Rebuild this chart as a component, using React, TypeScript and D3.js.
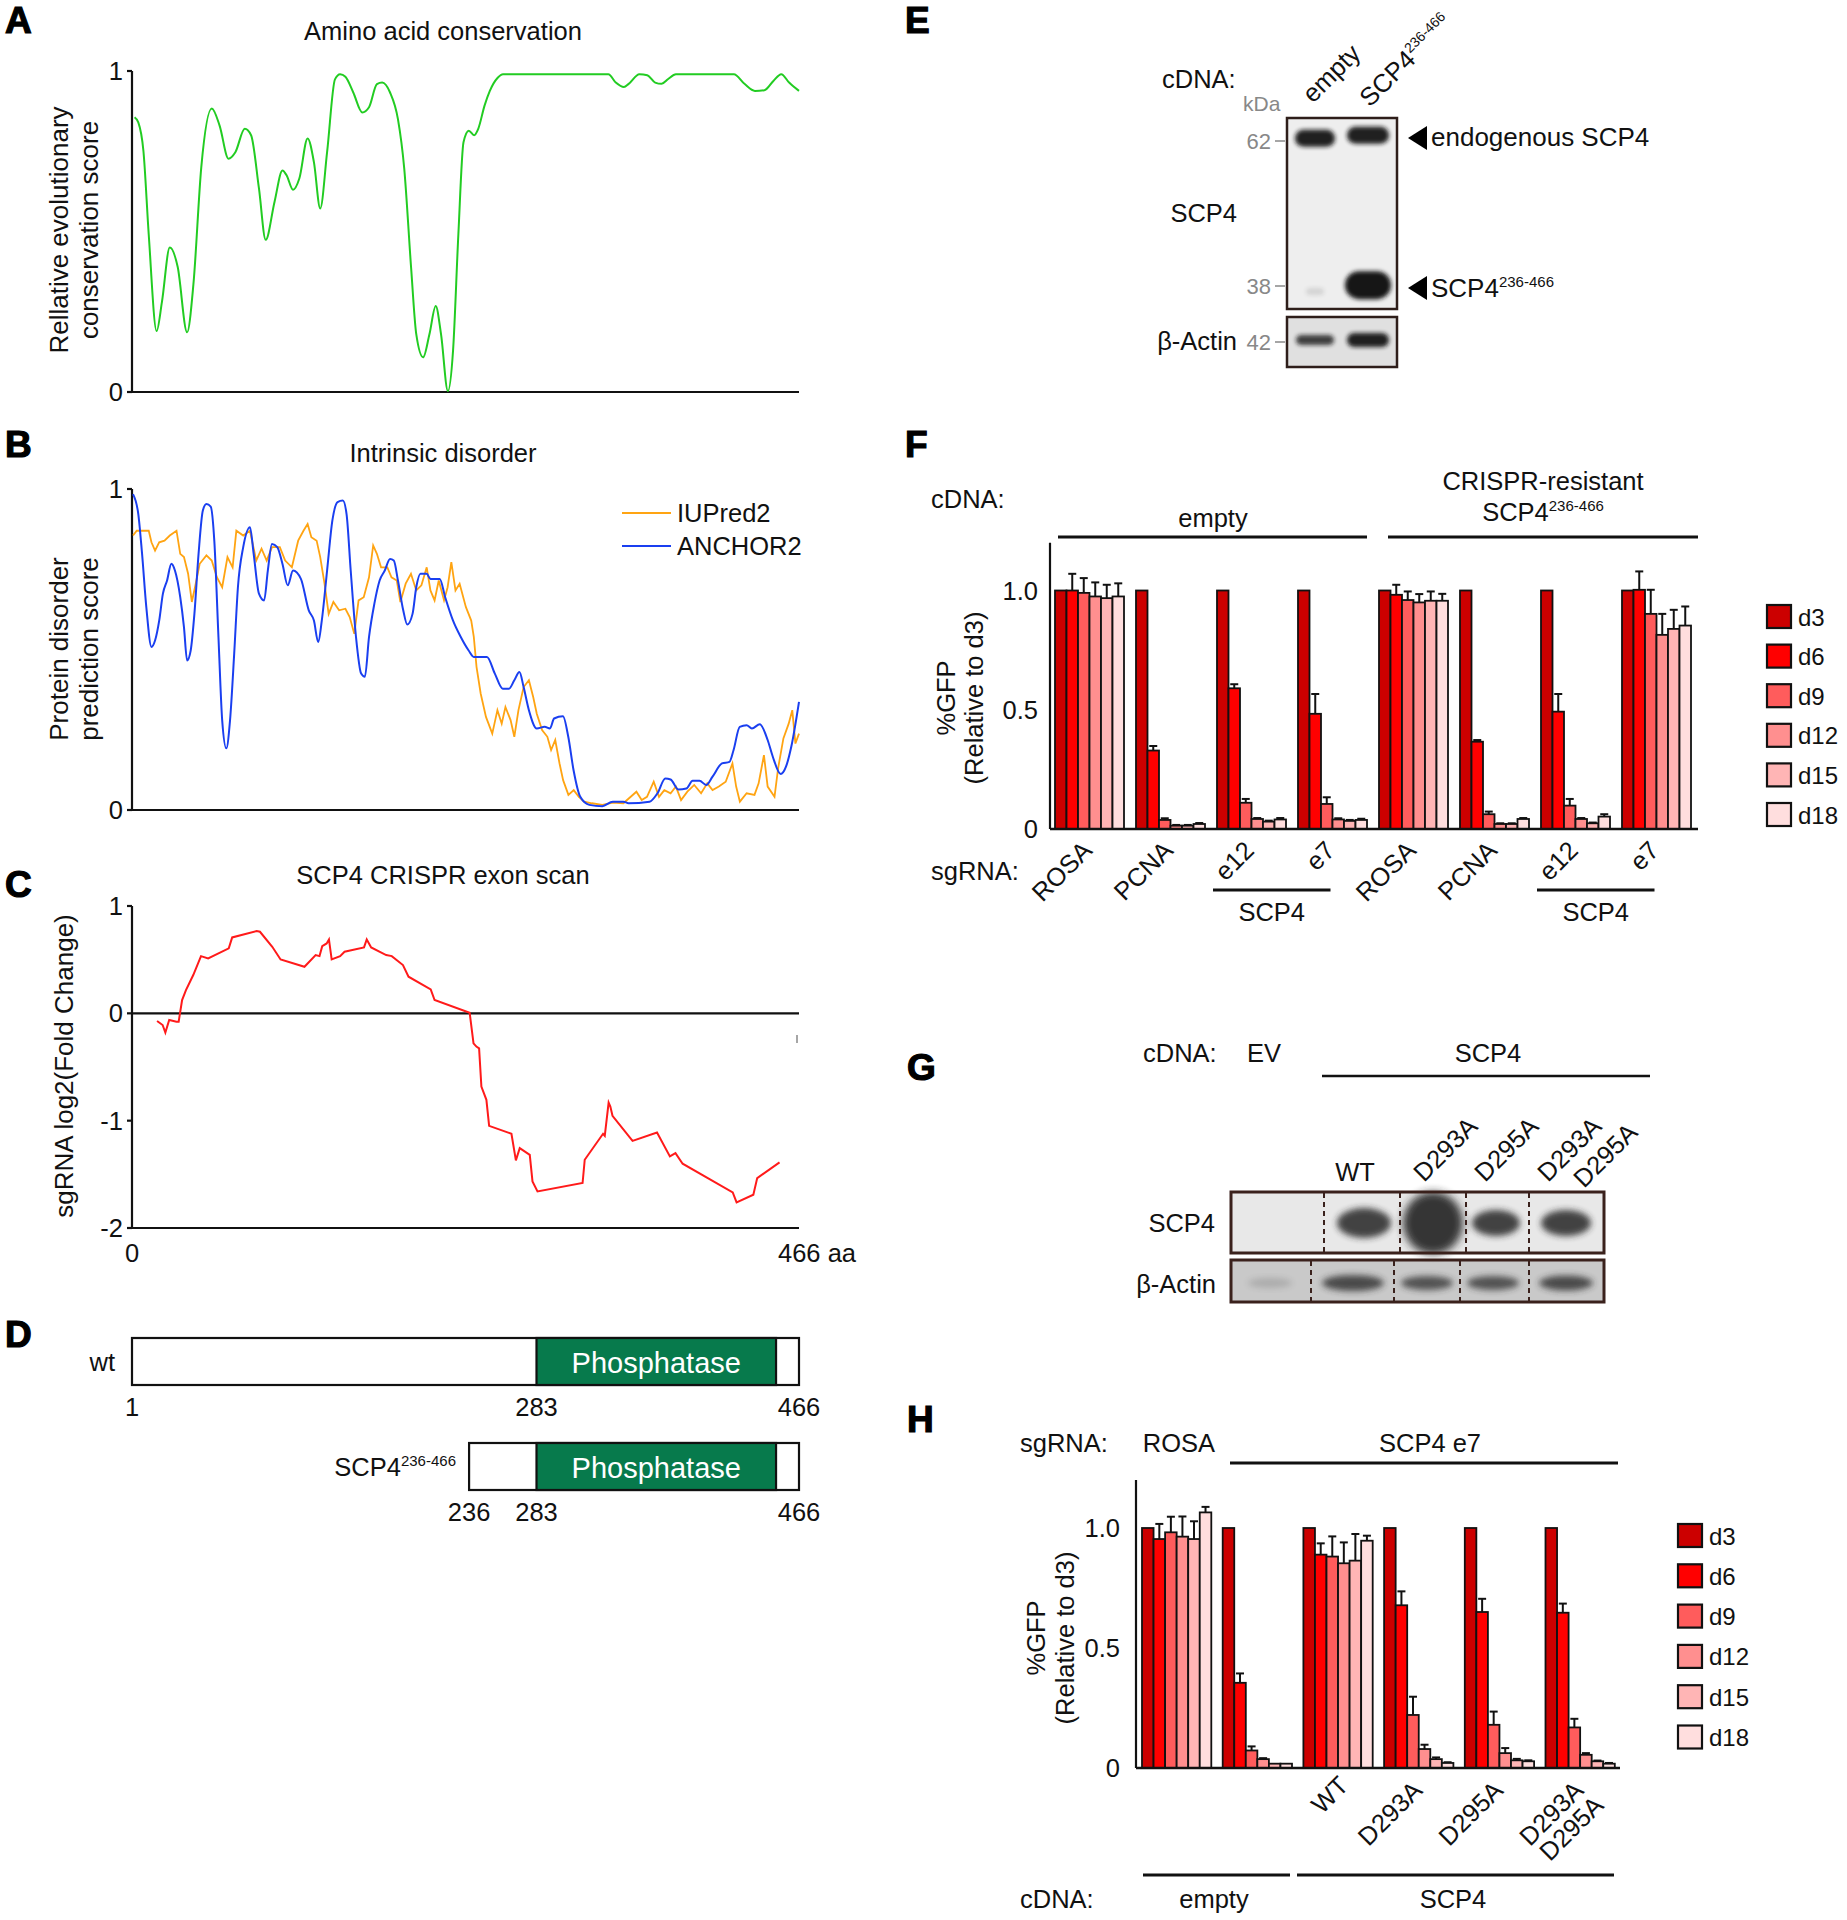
import React from 'react';
import * as d3 from 'd3';

const FONT = '"Liberation Sans", Arial, Helvetica, sans-serif';

// ---------- Panel A: conservation (aa, score)
const conservationPts: [number, number][] = [
  [1.8, 0.856], [4.4, 0.84], [8, 0.75], [11.7, 0.49], [17.2, 0.19], [20.9, 0.28], [26.4, 0.45], [31.9, 0.39],
  [38.5, 0.186], [42.9, 0.335], [48.4, 0.7], [55.7, 0.883], [61.2, 0.83], [67.4, 0.727], [72.2, 0.747], [78.8, 0.82],
  [83.2, 0.8], [88.7, 0.634], [93.4, 0.474], [99.6, 0.593], [105.1, 0.69], [108, 0.675], [112.5, 0.63], [116.9, 0.665],
  [122.7, 0.79], [127.1, 0.716], [131.5, 0.572], [136.3, 0.747], [141.8, 0.974], [145.4, 0.99], [149.1, 0.982],
  [154.6, 0.933], [160.9, 0.871], [165.6, 0.887], [171.1, 0.959], [174.8, 0.964], [180.3, 0.933], [185.8, 0.85],
  [190.2, 0.696], [195, 0.387], [198.6, 0.18], [203.4, 0.108], [207.8, 0.18], [212.2, 0.268], [215.9, 0.18],
  [220.7, 0.003], [224.3, 0.129], [228, 0.49], [231.6, 0.778], [235.3, 0.814], [239, 0.8], [241.9, 0.82],
  [246.3, 0.892], [250, 0.938], [255.5, 0.979], [259.2, 0.99], [332.8, 0.99], [338, 0.964], [343.7, 0.95],
  [347, 0.96], [354.5, 0.99], [360, 0.987], [365.5, 0.964], [370, 0.96], [374.6, 0.975], [380, 0.99],
  [420.5, 0.99], [427.9, 0.96], [435.2, 0.938], [441.8, 0.94], [448.1, 0.969], [453.6, 0.99], [459.1, 0.964], [466, 0.938],
];

// ---------- Panel B: disorder
const anchorPts: [number, number][] = [
  [0.7, 0.984], [4.4, 0.922], [7, 0.8], [10, 0.632], [13.6, 0.508], [16.1, 0.528], [19, 0.59], [21.6, 0.674],
  [24.5, 0.715], [27.5, 0.767], [30, 0.746], [33.7, 0.663], [36.3, 0.57], [38.5, 0.466], [41, 0.497], [43.6, 0.611],
  [46.5, 0.798], [49.5, 0.933], [52, 0.953], [55, 0.945], [57.5, 0.839], [60.4, 0.539], [63, 0.28], [65.9, 0.192],
  [68.5, 0.28], [71.4, 0.487], [74, 0.694], [77.7, 0.819], [82.4, 0.881], [85, 0.798], [88.7, 0.674], [92.3, 0.653],
  [94.9, 0.746], [97.8, 0.829], [101.5, 0.819], [105.1, 0.767], [108.8, 0.7], [112.5, 0.746], [118, 0.72],
  [123.5, 0.622], [127.1, 0.59], [130.1, 0.523], [132.6, 0.59], [136.3, 0.746], [140, 0.902], [143.6, 0.959],
  [147.3, 0.964], [149.9, 0.922], [152.8, 0.746], [156.5, 0.539], [160.1, 0.425], [162.7, 0.415], [165.6, 0.539],
  [169.3, 0.642], [173, 0.715], [176.6, 0.746], [180.3, 0.782], [182.9, 0.777], [185.8, 0.715], [189.5, 0.622],
  [192.3, 0.578], [196, 0.611], [198.6, 0.694], [201.5, 0.736], [205.9, 0.736], [208.5, 0.72], [215, 0.72],
  [218.8, 0.663], [224.3, 0.59], [229.7, 0.539], [235.2, 0.497], [238.8, 0.477], [248, 0.477], [253.5, 0.425],
  [259, 0.378], [263.4, 0.378], [267.1, 0.404], [270.7, 0.43], [273.6, 0.383], [277.3, 0.311], [282.8, 0.254],
  [288.3, 0.259], [292, 0.254], [294.9, 0.285], [301.1, 0.292], [304.8, 0.228], [308.5, 0.124], [313.2, 0.041],
  [319.5, 0.016], [328.6, 0.012], [335.9, 0.026], [343.3, 0.026], [346.9, 0.021], [361.6, 0.026], [367.1, 0.052],
  [372.6, 0.098], [376.3, 0.095], [381.8, 0.064], [387.3, 0.067], [391.7, 0.091], [396.5, 0.091], [401.2, 0.078],
  [405.6, 0.104], [412.2, 0.145], [417.4, 0.15], [420.3, 0.187], [424.6, 0.259], [429.4, 0.264], [433.1, 0.254],
  [438.6, 0.267], [444.1, 0.218], [447.7, 0.166], [453.2, 0.112], [456.9, 0.135], [460.6, 0.197], [466, 0.337],
];

const iupredPts: [number, number][] = [
  [0.7, 0.855], [3.3, 0.87], [11.7, 0.87], [13.6, 0.834], [16.1, 0.808], [19, 0.834], [22.7, 0.839], [26.4, 0.855],
  [31.1, 0.87], [33.7, 0.798], [36.3, 0.788], [39.2, 0.736], [41.8, 0.648], [44.3, 0.7], [47.3, 0.767], [52, 0.793],
  [55.7, 0.777], [59.3, 0.725], [63, 0.694], [66.7, 0.788], [70.3, 0.756], [72.9, 0.87], [77.7, 0.855], [82.4, 0.87],
  [86.8, 0.777], [90.5, 0.814], [94.1, 0.777], [97.8, 0.819], [103.3, 0.819], [107, 0.777], [111.7, 0.756],
  [116.1, 0.839], [119.8, 0.87], [122.7, 0.891], [125.3, 0.85], [129, 0.839], [131.5, 0.788], [134.5, 0.705],
  [137.4, 0.611], [140.7, 0.648], [144.7, 0.622], [149.1, 0.627], [152.1, 0.601], [155.3, 0.549], [158.3, 0.653],
  [161.9, 0.663], [165.6, 0.725], [168.5, 0.824], [171.1, 0.798], [174, 0.756], [178.4, 0.756], [181.3, 0.725],
  [185, 0.715], [187.5, 0.648], [191.2, 0.705], [194.9, 0.736], [198.6, 0.684], [202.2, 0.7], [205.9, 0.756],
  [208.5, 0.684], [211.4, 0.653], [214.3, 0.715], [218, 0.653], [220.5, 0.694], [223.1, 0.772], [226, 0.684],
  [228.9, 0.705], [233.3, 0.632], [237, 0.59], [238.8, 0.539], [240.7, 0.446], [243.6, 0.363], [247.3, 0.29],
  [251.7, 0.238], [255.3, 0.311], [258.3, 0.269], [260.9, 0.321], [264.5, 0.28], [267.1, 0.228], [270, 0.311],
  [273.6, 0.383], [277.3, 0.404], [280.3, 0.352], [282.8, 0.3], [286.5, 0.249], [290.2, 0.228], [292.8, 0.187],
  [295.7, 0.218], [298.7, 0.145], [301.2, 0.093], [304.9, 0.047], [308.6, 0.062], [312.2, 0.041], [315.9, 0.026],
  [321.3, 0.021], [328.6, 0.016], [336, 0.023], [343.3, 0.021], [352.4, 0.057], [356.1, 0.031], [359.8, 0.041],
  [364.5, 0.088], [368.2, 0.041], [371.9, 0.062], [376.3, 0.052], [380, 0.073], [383.6, 0.031], [388, 0.057],
  [392.8, 0.078], [397.6, 0.052], [401.9, 0.083], [405.6, 0.062], [410, 0.073], [414.8, 0.088], [419.5, 0.145],
  [422.1, 0.073], [424.7, 0.026], [429.4, 0.052], [434.9, 0.047], [437.8, 0.083], [441.5, 0.171], [444.1, 0.073],
  [448.9, 0.041], [451.4, 0.13], [455.1, 0.223], [458.8, 0.269], [461.3, 0.311], [463.5, 0.207], [466, 0.238],
];

// ---------- Panel C: exon scan (aa, log2FC)
const exonScanPts: [number, number][] = [
  [17.5, -0.071], [21.4, -0.109], [23.3, -0.18], [26, -0.062], [31.1, -0.078], [32.6, -0.078], [35, 0.124],
  [37.7, 0.217], [42.8, 0.357], [48.2, 0.533], [53.2, 0.512], [67.6, 0.605], [70, 0.707], [87.1, 0.766],
  [89.4, 0.76], [98, 0.62], [103.8, 0.502], [120.5, 0.434], [128.3, 0.543], [131, 0.533], [132.9, 0.626],
  [136, 0.651], [137.6, 0.688], [139.5, 0.502], [145.4, 0.533], [148.5, 0.574], [162.1, 0.614], [164, 0.688],
  [167.1, 0.614], [177.6, 0.543], [181.5, 0.533], [189.3, 0.45], [193.2, 0.341], [208.7, 0.223], [211.4, 0.124],
  [235.9, 0.006], [238.6, -0.279], [240.6, -0.31], [242.5, -0.326], [244.1, -0.682], [247.6, -0.806],
  [249.5, -1.048], [265.1, -1.122], [268.2, -1.37], [270.9, -1.256], [277.9, -1.318], [279.8, -1.566],
  [283.3, -1.659], [314.8, -1.581], [316.3, -1.364], [329.1, -1.122], [330.3, -1.141], [333, -0.831],
  [334.2, -0.868], [335.7, -0.955], [349.7, -1.188], [366.8, -1.11], [375.8, -1.333], [379.7, -1.302],
  [384.7, -1.401], [419.7, -1.668], [422.4, -1.761], [434.1, -1.69], [436.8, -1.535], [452.4, -1.389],
];

// ---------- Panel D: domains
const proteinLength = 466;
const phosphataseDomain: [number, number] = [283, 450];
const constructs = [
  { name: 'wt', start: 1, ticks: [1, 283, 466] },
  { name: 'SCP4', start: 236, ticks: [236, 283, 466] },
];

// ---------- Panels F & H: bar data
const days = ['d3', 'd6', 'd9', 'd12', 'd15', 'd18'];
const dayColors = ['#cc0000', '#ff0000', '#ff5c5c', '#ff8f8f', '#ffb5b5', '#ffdede'];

const fGroupLabels = ['ROSA', 'PCNA', 'e12', 'e7', 'ROSA', 'PCNA', 'e12', 'e7'];
const fValues = [
  [1, 1.0, 0.99, 0.975, 0.968, 0.975],
  [1, 0.329, 0.038, 0.014, 0.014, 0.021],
  [1, 0.59, 0.11, 0.042, 0.031, 0.04],
  [1, 0.483, 0.105, 0.04, 0.034, 0.038],
  [1, 0.982, 0.96, 0.95, 0.957, 0.957],
  [1, 0.366, 0.062, 0.021, 0.021, 0.042],
  [1, 0.492, 0.098, 0.042, 0.024, 0.052],
  [1, 1.003, 0.902, 0.814, 0.839, 0.853],
];
const fErrors = [
  [0, 0.07, 0.062, 0.059, 0.056, 0.055],
  [0, 0.019, 0.007, 0.003, 0.003, 0.004],
  [0, 0.017, 0.016, 0.004, 0.004, 0.006],
  [0, 0.083, 0.028, 0.005, 0.004, 0.005],
  [0, 0.042, 0.036, 0.035, 0.039, 0.029],
  [0, 0.007, 0.011, 0.003, 0.003, 0.004],
  [0, 0.074, 0.028, 0.004, 0.003, 0.01],
  [0, 0.077, 0.101, 0.088, 0.08, 0.08],
];

const hGroupLabels = [[], [], ['WT'], ['D293A'], ['D295A'], ['D293A', 'D295A']];
const hValues = [
  [1, 0.954, 0.982, 0.964, 0.954, 1.065],
  [1, 0.355, 0.073, 0.037, 0.018, 0.018],
  [1, 0.889, 0.881, 0.853, 0.864, 0.947],
  [1, 0.678, 0.221, 0.079, 0.037, 0.021],
  [1, 0.65, 0.18, 0.062, 0.032, 0.028],
  [1, 0.647, 0.169, 0.055, 0.028, 0.018],
];
const hErrors = [
  [0, 0.063, 0.065, 0.084, 0.074, 0.023],
  [0, 0.039, 0.017, 0.004, 0, 0],
  [0, 0.047, 0.084, 0.087, 0.111, 0.021],
  [0, 0.058, 0.076, 0.018, 0.007, 0.003],
  [0, 0.055, 0.055, 0.021, 0.006, 0.004],
  [0, 0.038, 0.036, 0.007, 0.003, 0.003],
];
const barTicks = [0, 0.5, 1.0];

// ---------- Panel E blot
const eLanes = ['empty', 'SCP4'];
const eMarkers = [62, 38];
const eBands = [
  { lane: 'empty', kda: 62.6, w: 40, h: 17, op: 0.95 },
  { lane: 'SCP4', kda: 63.2, w: 42, h: 17, op: 0.95 },
  { lane: 'empty', kda: 37.3, w: 18, h: 7, op: 0.12 },
  { lane: 'SCP4', kda: 38.1, w: 46, h: 28, op: 1 },
];
const eActinBands = [
  { lane: 'empty', w: 38, h: 10, op: 0.8 },
  { lane: 'SCP4', w: 42, h: 14, op: 0.95 },
];

// ---------- Panel G blot
const gLanes = ['EV', 'WT', 'D293A', 'D295A', 'D293A/D295A'];
const gTopBands = [
  { lane: 'WT', w: 54, h: 30, op: 0.85, blur: 3 },
  { lane: 'D293A', w: 60, h: 62, op: 0.92, blur: 4 },
  { lane: 'D295A', w: 48, h: 26, op: 0.85, blur: 3 },
  { lane: 'D293A/D295A', w: 50, h: 26, op: 0.85, blur: 3 },
];
const gActinBands = [
  { lane: 'EV', w: 44, h: 10, op: 0.18 },
  { lane: 'WT', w: 62, h: 16, op: 0.8 },
  { lane: 'D293A', w: 52, h: 14, op: 0.75 },
  { lane: 'D295A', w: 52, h: 14, op: 0.75 },
  { lane: 'D293A/D295A', w: 54, h: 15, op: 0.8 },
];

// ================= helpers
const T = (props: any) => <text fontFamily={FONT} fontSize={25.5} fill="#111" {...props} />;

function PanelLetter({ x, y, l }: { x: number; y: number; l: string }) {
  return (
    <text x={x} y={y} fontFamily={FONT} fontSize={37} fontWeight="bold" fill="#000" stroke="#000" strokeWidth={1.2}>
      {l}
    </text>
  );
}

function BarGroups({ vals, errs, x0, step, gw, y }: any) {
  const n = vals.length;
  const pad = 1 - gw / step;
  const xg = d3.scaleBand<number>().domain(d3.range(n)).range([x0, x0 + step * (n - pad)]).paddingInner(pad).paddingOuter(0);
  const xb = d3.scaleBand<string>().domain(days).range([0, xg.bandwidth()]).padding(0);
  return (
    <g>
      {vals.map((row: number[], gi: number) =>
        row.map((v: number, di: number) => {
          const bx = (xg(gi) as number) + (xb(days[di]) as number);
          const w = xb.bandwidth();
          const e = errs[gi][di];
          const cx = bx + w / 2;
          return (
            <g key={`${gi}-${di}`}>
              {e > 0 && (
                <g stroke="#111" strokeWidth={2}>
                  <line x1={cx} x2={cx} y1={y(v)} y2={y(v + e)} />
                  <line x1={cx - 4} x2={cx + 4} y1={y(v + e)} y2={y(v + e)} />
                </g>
              )}
              <rect x={bx} y={y(v)} width={w} height={y(0) - y(v)} fill={dayColors[di]} stroke="#111" strokeWidth={1.8} />
            </g>
          );
        })
      )}
    </g>
  );
}

function Legend({ x, y0, pitch }: { x: number; y0: number; pitch: number }) {
  return (
    <g>
      {days.map((d, i) => (
        <g key={d}>
          <rect x={x} y={y0 + i * pitch} width={24} height={23} fill={dayColors[i]} stroke="#111" strokeWidth={2.2} />
          <T x={x + 31} y={y0 + i * pitch + 12} dominantBaseline="central" fontSize={24}>{d}</T>
        </g>
      ))}
    </g>
  );
}

function Sup({ base, sup, supSize = 15, ...rest }: any) {
  return (
    <T {...rest}>
      {base}
      <tspan fontSize={supSize} dy={-10}>{sup}</tspan>
    </T>
  );
}

export default function App() {
  // --- A
  const xAA = d3.scaleLinear().domain([0, 466]).range([132, 799]);
  const yA = d3.scaleLinear().domain([0, 1]).range([392, 71]);
  const lineA = d3.line<[number, number]>().x(d => xAA(d[0])).y(d => yA(d[1])).curve(d3.curveMonotoneX);
  // --- B
  const yB = d3.scaleLinear().domain([0, 1]).range([810, 489]);
  const lineBsmooth = d3.line<[number, number]>().x(d => xAA(d[0])).y(d => yB(d[1])).curve(d3.curveMonotoneX);
  const lineBraw = d3.line<[number, number]>().x(d => xAA(d[0])).y(d => yB(d[1]));
  // --- C
  const yC = d3.scaleLinear().domain([-2, 1]).range([1228, 906]);
  const lineC = d3.line<[number, number]>().x(d => xAA(d[0])).y(d => yC(d[1]));
  // --- D
  const xD = d3.scaleLinear().domain([1, proteinLength]).range([132, 799]);
  const dRowY = [1338, 1443];
  const dBarH = 47;
  // --- F
  const yF = d3.scaleLinear().domain([0, 1.2]).range([829, 829 - 1.2 * 238.5]);
  const fX0 = 1055, fStep = 81, fGW = 69;
  const fCenter = (i: number) => fX0 + i * fStep + fGW / 2;
  // --- H
  const yH = d3.scaleLinear().domain([0, 1.2]).range([1768, 1768 - 1.2 * 240]);
  const hX0 = 1142, hStep = 80.7, hGW = 69.3;
  const hCenter = (i: number) => hX0 + i * hStep + hGW / 2;
  // --- E
  const eLaneX = d3.scalePoint<string>().domain(eLanes).range([1315, 1368]);
  const eKda = d3.scaleLog().domain([38, 62]).range([286, 141]);
  // --- G
  const gTopBounds = [1231, 1324, 1400, 1466, 1529, 1604];
  const gActBounds = [1231, 1311, 1394, 1460, 1529, 1604];
  const gTopX = d3.scaleOrdinal<string, number>().domain(gLanes).range([1277, 1364, 1433, 1496, 1566]);
  const gActX = d3.scaleOrdinal<string, number>().domain(gLanes).range([1270, 1353, 1427, 1493, 1566]);

  const axisStroke = { stroke: '#111', strokeWidth: 2.2 };

  return (
    <div style={{ position: 'absolute', left: 0, top: 0 }}>
      <svg width={1847} height={1920} viewBox="0 0 1847 1920" style={{ display: 'block', background: '#fff' }}>
        <defs>
          <filter id="blur3" x="-50%" y="-50%" width="200%" height="200%">
            <feGaussianBlur stdDeviation={3} />
          </filter>
          <filter id="blur4" x="-50%" y="-50%" width="200%" height="200%">
            <feGaussianBlur stdDeviation={4.5} />
          </filter>
          <filter id="blur2" x="-50%" y="-50%" width="200%" height="200%">
            <feGaussianBlur stdDeviation={2.2} />
          </filter>
        </defs>
        <rect width={1847} height={1920} fill="#fff" />

        {/* ===== A ===== */}
        <PanelLetter x={5} y={33} l="A" />
        <T x={443} y={40} textAnchor="middle">Amino acid conservation</T>
        <line x1={132} x2={132} y1={yA(1)} y2={yA(0)} {...axisStroke} />
        <line x1={132} x2={799} y1={yA(0)} y2={yA(0)} {...axisStroke} />
        {[0, 1].map(t => (
          <g key={t}>
            <line x1={127} x2={132} y1={yA(t)} y2={yA(t)} {...axisStroke} />
            <T x={123} y={yA(t)} textAnchor="end" dominantBaseline="central">{t}</T>
          </g>
        ))}
        <g transform="translate(59,230) rotate(-90)">
          <T x={0} y={0} textAnchor="middle" dominantBaseline="central" fontSize={26}>Rellative evolutionary</T>
        </g>
        <g transform="translate(89,230) rotate(-90)">
          <T x={0} y={0} textAnchor="middle" dominantBaseline="central" fontSize={26}>conservation score</T>
        </g>
        <path d={lineA(conservationPts) || ''} fill="none" stroke="#22cc22" strokeWidth={2} />

        {/* ===== B ===== */}
        <PanelLetter x={5} y={457} l="B" />
        <T x={443} y={462} textAnchor="middle">Intrinsic disorder</T>
        <line x1={132} x2={132} y1={yB(1)} y2={yB(0)} {...axisStroke} />
        <line x1={132} x2={799} y1={yB(0)} y2={yB(0)} {...axisStroke} />
        {[0, 1].map(t => (
          <g key={t}>
            <line x1={127} x2={132} y1={yB(t)} y2={yB(t)} {...axisStroke} />
            <T x={123} y={yB(t)} textAnchor="end" dominantBaseline="central">{t}</T>
          </g>
        ))}
        <g transform="translate(59,649) rotate(-90)">
          <T x={0} y={0} textAnchor="middle" dominantBaseline="central" fontSize={26}>Protein disorder</T>
        </g>
        <g transform="translate(89,649) rotate(-90)">
          <T x={0} y={0} textAnchor="middle" dominantBaseline="central" fontSize={26}>prediction score</T>
        </g>
        <path d={lineBraw(iupredPts) || ''} fill="none" stroke="#ffa412" strokeWidth={1.8} />
        <path d={lineBsmooth(anchorPts) || ''} fill="none" stroke="#1a3ff0" strokeWidth={2} />
        <line x1={622} x2={671} y1={513} y2={513} stroke="#ffa412" strokeWidth={2} />
        <T x={677} y={513} dominantBaseline="central">IUPred2</T>
        <line x1={622} x2={671} y1={546} y2={546} stroke="#1a3ff0" strokeWidth={2} />
        <T x={677} y={546} dominantBaseline="central">ANCHOR2</T>

        {/* ===== C ===== */}
        <PanelLetter x={5} y={897} l="C" />
        <T x={443} y={884} textAnchor="middle">SCP4 CRISPR exon scan</T>
        <line x1={132} x2={132} y1={yC(1)} y2={yC(-2)} {...axisStroke} />
        <line x1={132} x2={799} y1={yC(-2)} y2={yC(-2)} {...axisStroke} />
        <line x1={132} x2={799} y1={yC(0)} y2={yC(0)} {...axisStroke} />
        <line x1={797} x2={797} y1={1035} y2={1043} stroke="#888" strokeWidth={1.5} />
        {[1, 0, -1, -2].map(t => (
          <g key={t}>
            <line x1={127} x2={132} y1={yC(t)} y2={yC(t)} {...axisStroke} />
            <T x={123} y={yC(t)} textAnchor="end" dominantBaseline="central">{t}</T>
          </g>
        ))}
        <g transform="translate(64,1066) rotate(-90)">
          <T x={0} y={0} textAnchor="middle" dominantBaseline="central" fontSize={26}>sgRNA log2(Fold Change)</T>
        </g>
        <path d={lineC(exonScanPts) || ''} fill="none" stroke="#ff1a1a" strokeWidth={2} />
        <T x={xAA(0)} y={1262} textAnchor="middle">0</T>
        <T x={778} y={1262}>466 aa</T>

        {/* ===== D ===== */}
        <PanelLetter x={5} y={1347} l="D" />
        {constructs.map((c, i) => (
          <g key={c.name}>
            <rect x={xD(c.start)} y={dRowY[i]} width={xD(proteinLength) - xD(c.start)} height={dBarH} fill="#fff" stroke="#111" strokeWidth={2.2} />
            <rect x={xD(phosphataseDomain[0])} y={dRowY[i]} width={xD(phosphataseDomain[1]) - xD(phosphataseDomain[0])} height={dBarH} fill="#077a4c" stroke="#111" strokeWidth={2.2} />
            <T x={(xD(phosphataseDomain[0]) + xD(phosphataseDomain[1])) / 2} y={dRowY[i] + dBarH / 2 + 1} textAnchor="middle" dominantBaseline="central" fill="#fff" fontSize={29}>Phosphatase</T>
            {c.ticks.map(t => (
              <T key={t} x={xD(t)} y={dRowY[i] + dBarH + 31} textAnchor="middle">{t}</T>
            ))}
          </g>
        ))}
        <T x={115} y={dRowY[0] + dBarH / 2} textAnchor="end" dominantBaseline="central">wt</T>
        <Sup x={456} y={dRowY[1] + dBarH / 2 + 9} textAnchor="end" base="SCP4" sup="236-466" />

        {/* ===== E ===== */}
        <PanelLetter x={905} y={33} l="E" />
        <T x={1162} y={88}>cDNA:</T>
        <g transform={`translate(${eLaneX('empty')! - 2},104) rotate(-45)`}>
          <T x={0} y={0} fontSize={25.5}>empty</T>
        </g>
        <g transform={`translate(${eLaneX('SCP4')! + 2},108) rotate(-45)`}>
          <Sup x={0} y={0} base="SCP4" sup="236-466" fontSize={25.5} supSize={14} />
        </g>
        <T x={1243} y={111} fill="#888" fontSize={21}>kDa</T>
        <rect x={1287} y={118} width={110} height={191} fill="#eeeeee" stroke="#2e1e1a" strokeWidth={2.5} />
        <rect x={1287} y={317} width={110} height={50} fill="#e0e0e0" stroke="#2e1e1a" strokeWidth={2.5} />
        {eBands.map((b, i) => (
          <rect key={i} x={eLaneX(b.lane)! - b.w / 2} y={eKda(b.kda) - b.h / 2} width={b.w} height={b.h} rx={b.h / 2} fill="#151515" opacity={b.op} filter="url(#blur2)" />
        ))}
        {eActinBands.map((b, i) => (
          <rect key={i} x={eLaneX(b.lane)! - b.w / 2} y={340 - b.h / 2} width={b.w} height={b.h} rx={b.h / 2} fill="#151515" opacity={b.op} filter="url(#blur2)" />
        ))}
        {eMarkers.map(m => (
          <g key={m}>
            <T x={1271} y={eKda(m)} textAnchor="end" dominantBaseline="central" fill="#888" fontSize={22}>{m}</T>
            <line x1={1275} x2={1285} y1={eKda(m)} y2={eKda(m)} stroke="#888" strokeWidth={1.5} />
          </g>
        ))}
        <T x={1271} y={342} textAnchor="end" dominantBaseline="central" fill="#888" fontSize={22}>42</T>
        <line x1={1275} x2={1285} y1={342} y2={342} stroke="#888" strokeWidth={1.5} />
        <T x={1237} y={213} textAnchor="end" dominantBaseline="central">SCP4</T>
        <T x={1237} y={341} textAnchor="end" dominantBaseline="central">β-Actin</T>
        <polygon points="1408,138 1427,126 1427,150" fill="#000" />
        <T x={1431} y={137} dominantBaseline="central" fontSize={26}>endogenous SCP4</T>
        <polygon points="1408,288 1427,276 1427,300" fill="#000" />
        <Sup x={1431} y={297} base="SCP4" sup="236-466" fontSize={26} />

        {/* ===== F ===== */}
        <PanelLetter x={905} y={457} l="F" />
        <T x={931} y={508}>cDNA:</T>
        <T x={1213} y={527} textAnchor="middle">empty</T>
        <line x1={1058} x2={1367} y1={537} y2={537} stroke="#111" strokeWidth={2.8} />
        <T x={1543} y={490} textAnchor="middle">CRISPR-resistant</T>
        <Sup x={1543} y={521} textAnchor="middle" base="SCP4" sup="236-466" />
        <line x1={1388} x2={1698} y1={537} y2={537} stroke="#111" strokeWidth={2.8} />
        <line x1={1050} x2={1050} y1={yF(1.2)} y2={yF(0)} {...axisStroke} />
        <BarGroups vals={fValues} errs={fErrors} x0={fX0} step={fStep} gw={fGW} y={yF} />
        <line x1={1050} x2={1698} y1={yF(0)} y2={yF(0)} stroke="#111" strokeWidth={2.6} />
        {barTicks.map(t => (
          <T key={t} x={1038} y={yF(t)} textAnchor="end" dominantBaseline="central">{t === 0 ? '0' : t.toFixed(1)}</T>
        ))}
        <g transform="translate(946,698) rotate(-90)">
          <T x={0} y={0} textAnchor="middle" dominantBaseline="central">%GFP</T>
        </g>
        <g transform="translate(974,698) rotate(-90)">
          <T x={0} y={0} textAnchor="middle" dominantBaseline="central">(Relative to d3)</T>
        </g>
        {fGroupLabels.map((l, i) => (
          <g key={i} transform={`translate(${fCenter(i) + 4},852) rotate(-45)`}>
            <T x={0} y={0} textAnchor="end">{l}</T>
          </g>
        ))}
        <T x={931} y={880}>sgRNA:</T>
        {[2, 6].map(i => (
          <g key={i}>
            <line x1={fX0 + i * fStep - 4} x2={fCenter(i + 1) - 2} y1={890} y2={890} stroke="#111" strokeWidth={2.8} />
            <T x={(fX0 + i * fStep - 4 + fCenter(i + 1) - 2) / 2} y={921} textAnchor="middle">SCP4</T>
          </g>
        ))}
        <Legend x={1767} y0={605} pitch={39.6} />

        {/* ===== G ===== */}
        <PanelLetter x={907} y={1080} l="G" />
        <T x={1143} y={1062}>cDNA:</T>
        <T x={1247} y={1062}>EV</T>
        <T x={1488} y={1062} textAnchor="middle">SCP4</T>
        <line x1={1322} x2={1650} y1={1076} y2={1076} stroke="#111" strokeWidth={2.5} />
        <T x={1355} y={1181} textAnchor="middle">WT</T>
        {[
          { t: 'D293A', x: 1424, y: 1183 },
          { t: 'D295A', x: 1485, y: 1183 },
          { t: 'D293A', x: 1548, y: 1183 },
          { t: 'D295A', x: 1584, y: 1189 },
        ].map((d, i) => (
          <g key={i} transform={`translate(${d.x},${d.y}) rotate(-45)`}>
            <T x={0} y={0}>{d.t}</T>
          </g>
        ))}
        <rect x={1231} y={1192} width={373} height={61} fill="#e8e8e8" />
        <rect x={1231} y={1260} width={373} height={42} fill="#c9c9c9" />
        {gTopBands.map((b, i) => (
          <ellipse key={i} cx={gTopX(b.lane)} cy={1223} rx={b.w / 2} ry={b.h / 2} fill="#262626" opacity={b.op} filter={b.blur > 3 ? 'url(#blur4)' : 'url(#blur3)'} />
        ))}
        {gActinBands.map((b, i) => (
          <ellipse key={i} cx={gActX(b.lane)} cy={1283} rx={b.w / 2} ry={b.h / 2} fill="#2a2a2a" opacity={b.op} filter="url(#blur3)" />
        ))}
        <rect x={1231} y={1192} width={373} height={61} fill="none" stroke="#3a211c" strokeWidth={3} />
        <rect x={1231} y={1260} width={373} height={42} fill="none" stroke="#3a211c" strokeWidth={3} />
        {gTopBounds.slice(1, -1).map(x => (
          <line key={x} x1={x} x2={x} y1={1193} y2={1252} stroke="#3a211c" strokeWidth={2} strokeDasharray="5,4" />
        ))}
        {gActBounds.slice(1, -1).map(x => (
          <line key={x} x1={x} x2={x} y1={1261} y2={1301} stroke="#3a211c" strokeWidth={2} strokeDasharray="5,4" />
        ))}
        <T x={1215} y={1223} textAnchor="end" dominantBaseline="central">SCP4</T>
        <T x={1216} y={1284} textAnchor="end" dominantBaseline="central">β-Actin</T>

        {/* ===== H ===== */}
        <PanelLetter x={907} y={1432} l="H" />
        <T x={1020} y={1452}>sgRNA:</T>
        <T x={1179} y={1452} textAnchor="middle">ROSA</T>
        <T x={1430} y={1452} textAnchor="middle">SCP4 e7</T>
        <line x1={1230} x2={1618} y1={1463} y2={1463} stroke="#111" strokeWidth={2.8} />
        <line x1={1136} x2={1136} y1={yH(1.2)} y2={yH(0)} {...axisStroke} />
        <BarGroups vals={hValues} errs={hErrors} x0={hX0} step={hStep} gw={hGW} y={yH} />
        <line x1={1136} x2={1620} y1={yH(0)} y2={yH(0)} stroke="#111" strokeWidth={2.6} />
        {barTicks.map(t => (
          <T key={t} x={1120} y={yH(t)} textAnchor="end" dominantBaseline="central">{t === 0 ? '0' : t.toFixed(1)}</T>
        ))}
        <g transform="translate(1036,1638) rotate(-90)">
          <T x={0} y={0} textAnchor="middle" dominantBaseline="central">%GFP</T>
        </g>
        <g transform="translate(1065,1638) rotate(-90)">
          <T x={0} y={0} textAnchor="middle" dominantBaseline="central">(Relative to d3)</T>
        </g>
        {hGroupLabels.map((ls, i) =>
          ls.map((l, j) => (
            <g key={`${i}-${j}`} transform={`translate(${hCenter(i) + (i === 2 ? 12 : 5) + j * 20},${(i === 2 ? 1787 : 1792) + j * 15}) rotate(-45)`}>
              <T x={0} y={0} textAnchor="end">{l}</T>
            </g>
          ))
        )}
        <line x1={1143} x2={1290} y1={1875} y2={1875} stroke="#111" strokeWidth={2.8} />
        <line x1={1297} x2={1614} y1={1875} y2={1875} stroke="#111" strokeWidth={2.8} />
        <T x={1020} y={1908}>cDNA:</T>
        <T x={1214} y={1908} textAnchor="middle">empty</T>
        <T x={1453} y={1908} textAnchor="middle">SCP4</T>
        <Legend x={1678} y0={1524} pitch={40.3} />
      </svg>
    </div>
  );
}
